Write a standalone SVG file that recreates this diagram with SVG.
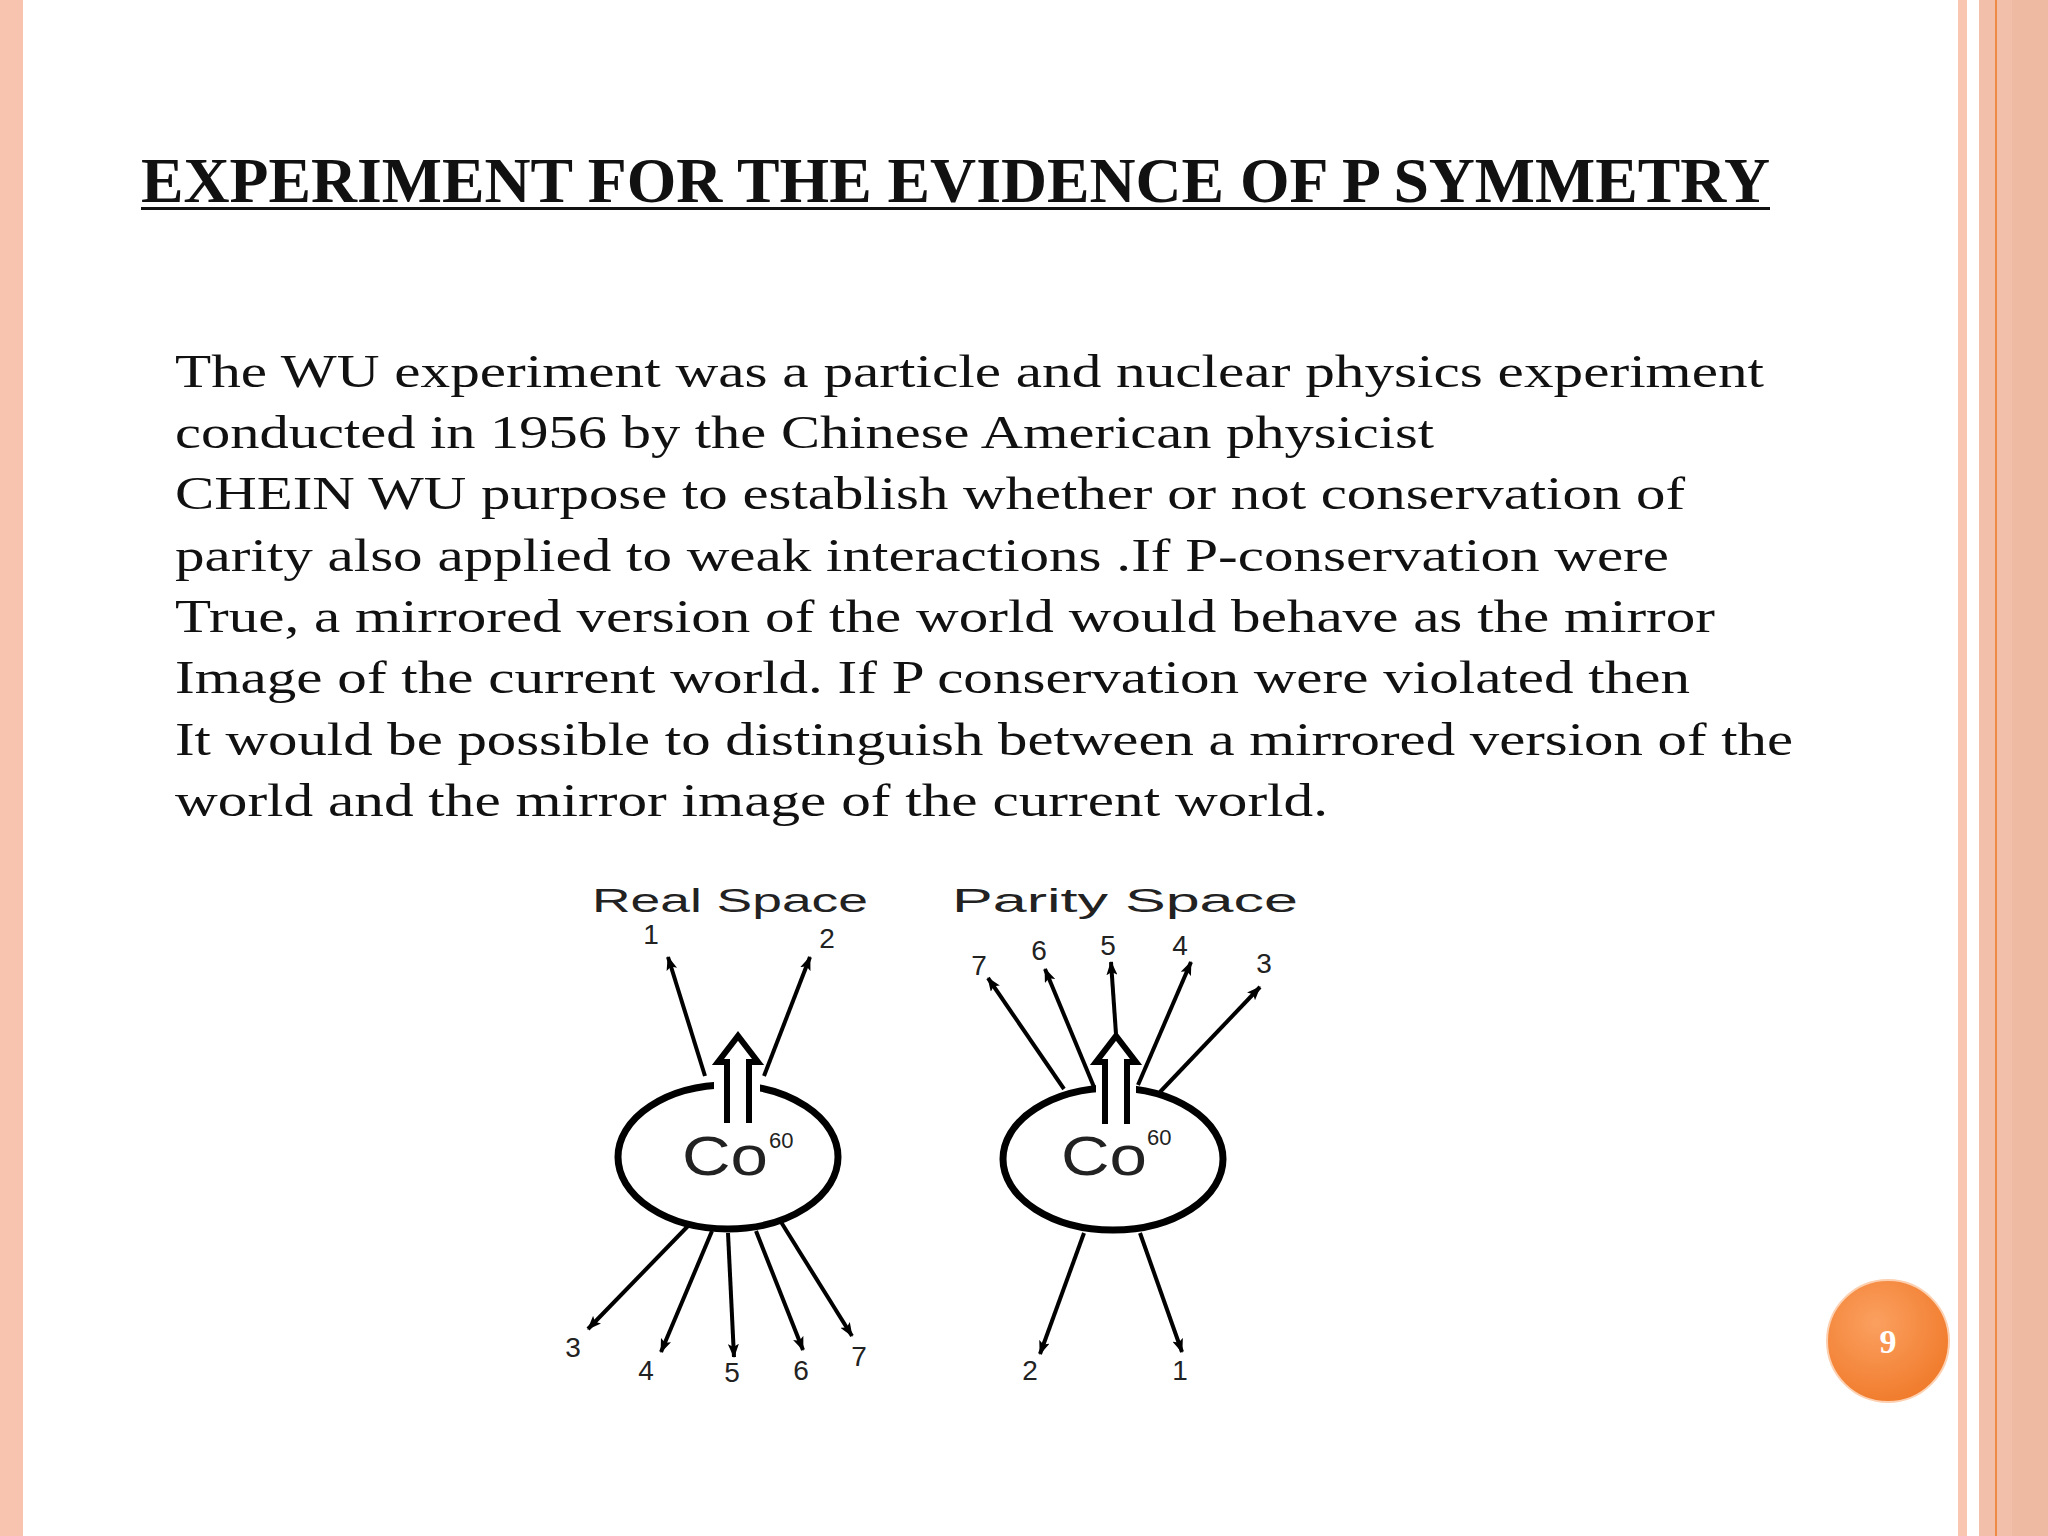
<svg xmlns="http://www.w3.org/2000/svg" width="2048" height="1536" viewBox="0 0 2048 1536">
<defs>
<marker id="ah" markerWidth="14" markerHeight="11" refX="13" refY="5.5" orient="auto" markerUnits="userSpaceOnUse" viewBox="0 0 14 11"><path d="M0,0 L14,5.5 L0,11 L3,5.5 Z" fill="#000"/></marker>
<radialGradient id="pg" cx="0.4" cy="0.35" r="0.7"><stop offset="0" stop-color="#FBA060"/><stop offset="1" stop-color="#F07A2A"/></radialGradient>
<style>
.body{font-family:"Liberation Serif",serif;font-size:47px;fill:#111}
.lab{font-family:"Liberation Sans",Arial,sans-serif;fill:#222}
.num{font-family:"Liberation Sans",Arial,sans-serif;font-size:28px;fill:#222;text-anchor:middle}
.ar{stroke:#000;stroke-width:4;fill:none;marker-end:url(#ah)}
.ell{fill:none;stroke:#000;stroke-width:7}
.hol{fill:#fff;stroke:#000;stroke-width:6;stroke-linejoin:miter}
</style>
</defs>
<rect width="2048" height="1536" fill="#fff"/>
<rect x="0" y="0" width="23" height="1536" fill="#F8C4B0"/>
<rect x="1958" y="0" width="9" height="1536" fill="#F9C6B2"/>
<rect x="1979" y="0" width="69" height="1536" fill="#F2C0AA"/>
<rect x="2012" y="0" width="36" height="1536" fill="#EFBAA2"/>
<rect x="1995" y="0" width="2" height="1536" fill="#EE8A45"/>

<g id="title">
<text x="141" y="202" font-family="Liberation Serif,serif" font-weight="bold" font-size="64" textLength="1629" lengthAdjust="spacingAndGlyphs" fill="#111">EXPERIMENT FOR THE EVIDENCE OF P SYMMETRY</text>
<rect x="141" y="207" width="1629" height="3" fill="#111"/>
</g>
<g id="body">
<text class="body" x="175" y="387" textLength="1589" lengthAdjust="spacingAndGlyphs">The WU experiment was a particle and nuclear physics experiment</text>
<text class="body" x="175" y="448" textLength="1259" lengthAdjust="spacingAndGlyphs">conducted in 1956 by the Chinese American physicist</text>
<text class="body" x="175" y="509" textLength="1510" lengthAdjust="spacingAndGlyphs">CHEIN WU purpose to establish whether or not conservation of</text>
<text class="body" x="175" y="571" textLength="1494" lengthAdjust="spacingAndGlyphs">parity also applied to weak interactions .If P-conservation were</text>
<text class="body" x="175" y="632" textLength="1540" lengthAdjust="spacingAndGlyphs">True, a mirrored version of the world would behave as the mirror</text>
<text class="body" x="175" y="693" textLength="1515" lengthAdjust="spacingAndGlyphs">Image of the current world. If P conservation were violated then</text>
<text class="body" x="175" y="755" textLength="1618" lengthAdjust="spacingAndGlyphs">It would be possible to distinguish between a mirrored version of the</text>
<text class="body" x="175" y="816" textLength="1153" lengthAdjust="spacingAndGlyphs">world and the mirror image of the current world.</text>
</g>

<g id="real-space">
<text class="lab" x="592" y="912" font-size="34" textLength="276" lengthAdjust="spacingAndGlyphs">Real Space</text>
<ellipse class="ell" cx="728" cy="1157" rx="110" ry="72"/>
<rect x="714" y="1075" width="46" height="22" fill="#fff"/>
<path class="hol" d="M727,1123 L727,1062 L718,1062 L738,1036 L758,1062 L749,1062 L749,1123"/>
<text class="lab" x="682" y="1175" font-size="56" textLength="86" lengthAdjust="spacingAndGlyphs">Co</text>
<text class="lab" x="769" y="1148" font-size="22">60</text>
</g>
<g id="parity-space">
<text class="lab" x="952" y="912" font-size="34" textLength="346" lengthAdjust="spacingAndGlyphs">Parity Space</text>
<ellipse class="ell" cx="1113" cy="1159" rx="110" ry="71"/>
<rect x="1096" y="1078" width="40" height="22" fill="#fff"/>
<path class="hol" d="M1105,1124 L1105,1062 L1096,1062 L1116,1036 L1136,1062 L1127,1062 L1127,1124"/>
<text class="lab" x="1061" y="1175" font-size="56" textLength="86" lengthAdjust="spacingAndGlyphs">Co</text>
<text class="lab" x="1147" y="1145" font-size="22">60</text>
</g>

<g id="connectors">
<line class="ar" x1="705" y1="1076" x2="668" y2="957"/>
<line class="ar" x1="764" y1="1076" x2="810" y2="957"/>
<line class="ar" x1="688" y1="1226" x2="588" y2="1329"/>
<line class="ar" x1="712" y1="1231" x2="661" y2="1352"/>
<line class="ar" x1="728" y1="1233" x2="734" y2="1357"/>
<line class="ar" x1="756" y1="1231" x2="803" y2="1350"/>
<line class="ar" x1="781" y1="1222" x2="852" y2="1336"/>
<line class="ar" x1="1064" y1="1089" x2="988" y2="978"/>
<line class="ar" x1="1094" y1="1087" x2="1045" y2="969"/>
<line class="ar" x1="1116" y1="1034" x2="1111" y2="962"/>
<line class="ar" x1="1138" y1="1085" x2="1191" y2="962"/>
<line class="ar" x1="1160" y1="1092" x2="1260" y2="987"/>
<line class="ar" x1="1084" y1="1233" x2="1040" y2="1354"/>
<line class="ar" x1="1140" y1="1233" x2="1182" y2="1352"/>
</g>
<g id="labels">
<text class="num" x="651" y="944">1</text>
<text class="num" x="827" y="948">2</text>
<text class="num" x="573" y="1357">3</text>
<text class="num" x="646" y="1380">4</text>
<text class="num" x="732" y="1382">5</text>
<text class="num" x="801" y="1380">6</text>
<text class="num" x="859" y="1366">7</text>
<text class="num" x="979" y="975">7</text>
<text class="num" x="1039" y="960">6</text>
<text class="num" x="1108" y="955">5</text>
<text class="num" x="1180" y="955">4</text>
<text class="num" x="1264" y="973">3</text>
<text class="num" x="1030" y="1380">2</text>
<text class="num" x="1180" y="1380">1</text>
</g>

<g id="page-number">
<circle cx="1888" cy="1341" r="61" fill="url(#pg)" stroke="#FCD0B0" stroke-width="2"/>
<text x="1888" y="1353" font-family="Liberation Serif,serif" font-weight="bold" font-size="34" fill="#fff" text-anchor="middle">9</text>
</g>
</svg>
